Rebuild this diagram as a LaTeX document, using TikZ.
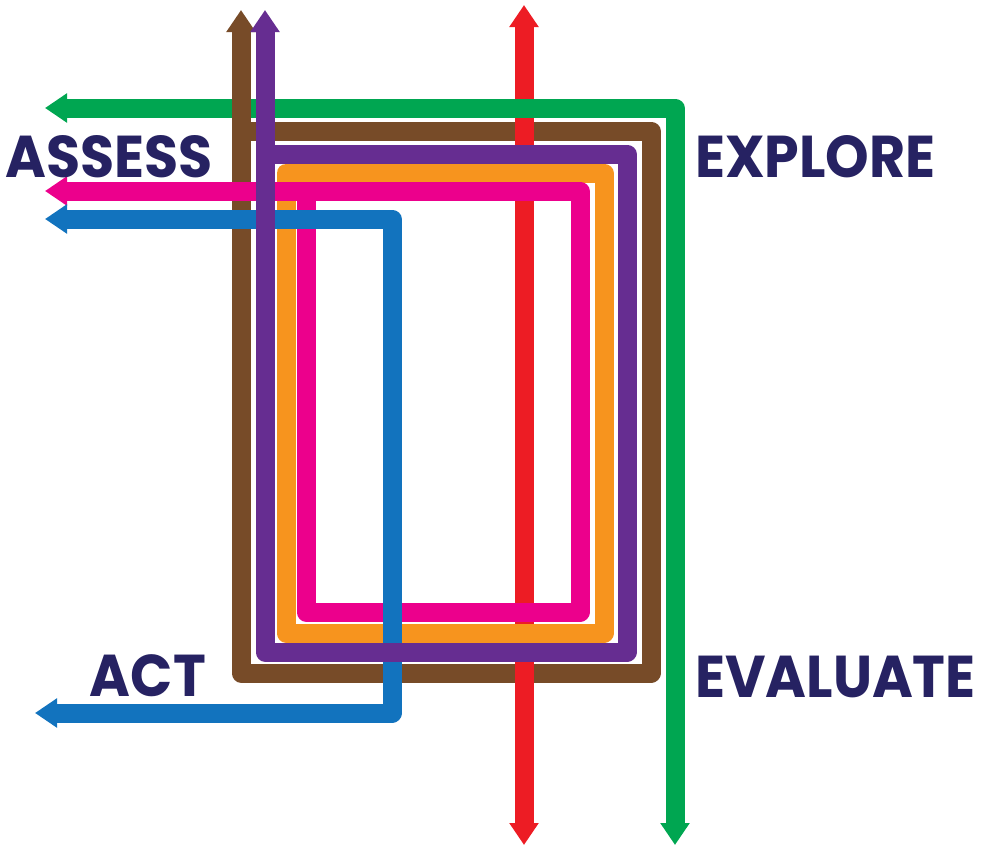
\documentclass[tikz,border=0pt]{standalone}
\usepackage{fontspec}
\usepackage{xcolor}
\usepackage{graphicx}
\usetikzlibrary{arrows.meta}
\newfontfamily\stagefont{Poppins}
\newcommand{\stagetext}[1]{\scalebox{0.94}[1]{#1}}

\definecolor{ssgreen}{HTML}{00A651}
\definecolor{ssbrown}{HTML}{774B28}
\definecolor{sspurple}{HTML}{662D91}
\definecolor{ssorange}{HTML}{F7941E}
\definecolor{sspink}{HTML}{EC008C}
\definecolor{ssblue}{HTML}{1273BE}
\definecolor{ssred}{HTML}{ED1C24}
\definecolor{ssnavy}{HTML}{262262}

\tikzset{
  band/.style={line width=19pt, line join=round},
  stage/.style={inner sep=0pt, text=ssnavy, font=\stagefont\bfseries\fontsize{59}{59}\selectfont},
  >={Triangle[width=28pt,length=22pt]}
}

\begin{document}
\begin{tikzpicture}[x=1pt, y=-1pt]
    \useasboundingbox (0,0) rectangle (986,846);

    % brown loop, its upright arrow comes later
    \draw[band, ssbrown] (232,131) -- (651,131) -- (651,673) -- (241,673) -- (241,600);

    % red line through everything
    \draw[band, ssred, <->] (524,5) -- (524,845);

    % green
    \draw[band, ssgreen, <->] (45,108) -- (675,108) -- (675,845);

    % brown arrow over the green
    \draw[band, ssbrown, ->] (241,640) -- (241,10);

    % orange ring
    \draw[band, ssorange] (286,173) rectangle (604,633);

    % pink
    \draw[band, sspink, ->] (306,191) -- (306,612) -- (580,612) -- (580,191) -- (45,191);

    % blue
    \draw[band, ssblue, <->] (45,219) -- (392,219) -- (392,713) -- (35,713);

    % purple
    \draw[band, sspurple, ->] (265,154) -- (627,154) -- (627,652) -- (265,652) -- (265,10);

    % labels
    \node[stage, anchor=base east] (assess) at (213,177) {\stagetext{ASSESS}};
    \node[stage, anchor=base west] (explore) at (695,177) {\stagetext{EXPLORE}};
    \node[stage, anchor=base east] (act) at (206,696) {\stagetext{ACT}};
    \node[stage, anchor=base west] (evaluate) at (695,697) {\stagetext{EVALUATE}};
\end{tikzpicture}
\end{document}
